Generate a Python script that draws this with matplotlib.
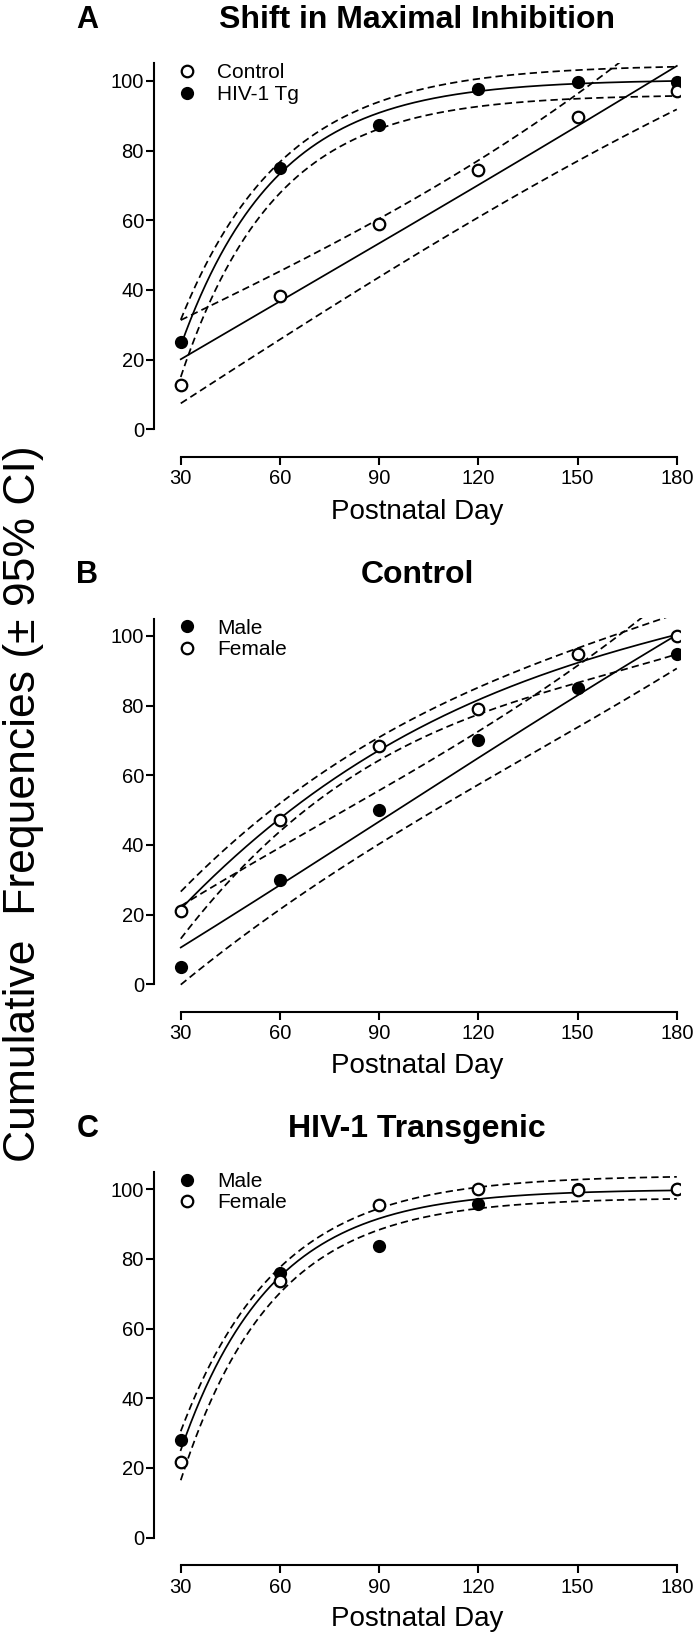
import numpy as np
import matplotlib
matplotlib.use("Agg")
import matplotlib.pyplot as plt

plt.rcParams['font.family'] = ['Liberation Sans', 'DejaVu Sans']

# ---------------- data ----------------
days = [30, 60, 90, 120, 150, 180]
xticks = [30, 60, 90, 120, 150, 180]
yticks = [0, 20, 40, 60, 80, 100]

# Panel A: Shift in Maximal Inhibition
a_control = [12.7, 38.4, 58.9, 74.4, 89.6, 97.1]
a_hiv = [25.0, 74.9, 87.4, 97.7, 99.8, 99.8]
# fitted curve readings (solid) and 95% CI readings (dashed)
a_control_fit_x = [30, 60, 90, 120, 150, 180]
a_control_fit = [20.1, 36.7, 53.4, 70.1, 87.1, 104.3]
a_control_hi_x = [30, 60, 90, 120, 150, 161]
a_control_hi = [31.5, 44.8, 61.0, 77.3, 95.5, 104.6]
a_control_lo_x = [30, 60, 90, 120, 150, 180]
a_control_lo = [7.5, 25.6, 43.8, 61.0, 76.8, 91.9]
a_hiv_fit = [24.0, 73.5, 90.7, 96.9, 99.5, 99.9]
a_hiv_hi = [31.4, 77.0, 93.8, 100.3, 103.2, 104.3]
a_hiv_lo = [15.0, 68.0, 85.5, 93.6, 95.0, 95.2]

# Panel B: Control
b_male = [5.0, 30.0, 50.0, 70.0, 85.0, 94.8]
b_female = [21.1, 47.3, 68.4, 79.0, 94.8, 100.0]
b_male_fit = [10.6, 28.3, 47.0, 64.8, 83.0, 100.3]
b_male_hi_x = [30, 60, 90, 120, 150, 168]
b_male_hi = [22.5, 39.3, 55.2, 73.4, 90.7, 104.5]
b_male_lo = [0.0, 21.1, 40.8, 57.1, 73.7, 90.7]
b_female_fit = [21.8, 46.8, 68.6, 80.4, 92.8, 100.3]
b_female_hi_x = [30, 60, 90, 120, 150, 175]
b_female_hi = [26.9, 50.9, 72.0, 85.1, 96.0, 105.0]
b_female_lo = [13.0, 44.0, 64.8, 76.3, 87.5, 94.5]

# Panel C: HIV-1 Transgenic
c_male = [28.0, 76.0, 83.7, 95.9, 100.0, 100.0]
c_female = [21.8, 73.7, 95.4, 100.0, 99.9, 100.0]
c_fit = [25.1, 74.9, 91.6, 97.3, 98.9, 99.7]
c_hi = [30.5, 77.7, 94.5, 100.2, 102.8, 103.8]
c_lo = [16.5, 70.1, 88.2, 95.4, 96.4, 96.7]


# ---------------- curve models ----------------
def fit_exp(xs, ys):
    xs = np.asarray(xs, float); ys = np.asarray(ys, float)
    t = xs - 30.0
    best = None
    for c in np.linspace(-0.12, 0.03, 3001):
        if abs(c) < 1e-9:
            continue
        A = np.column_stack([np.ones_like(t), np.exp(c * t)])
        coef, *_ = np.linalg.lstsq(A, ys, rcond=None)
        sse = float(((A @ coef - ys) ** 2).sum())
        if best is None or sse < best[0]:
            best = (sse, coef[0], coef[1], c)
    _, a, b, c = best
    return lambda x: a + b * np.exp(c * (np.asarray(x) - 30.0))


def fit_cubic(xs, ys):
    p = np.polyfit(np.asarray(xs, float), np.asarray(ys, float), 3)
    return lambda x: np.polyval(p, x)


xx = np.linspace(30, 180, 500)

# ---------------- figure layout ----------------
W, H = 700, 1642
fig = plt.figure(figsize=(W / 100, H / 100), dpi=100)

left_px, width_px = 154.3, 525.8
axis_line_px = [456.7, 1011.7, 1565.0]
height_px = 393.2
XLIM = (22, 181)
YLIM = (-7.87, 105)

FS_TICK = 14.5
FS_LEG = 15
FS_XLAB = 20
FS_TITLE = 23
FS_YLAB = 32

dash = (4.2, 2.4)
LW = 1.25


def make_ax(i):
    b = 1 - axis_line_px[i] / H
    ax = fig.add_axes([left_px / W, b, width_px / W, height_px / H])
    ax.set_xlim(*XLIM)
    ax.set_ylim(*YLIM)
    for s in ['top', 'right']:
        ax.spines[s].set_visible(False)
    ax.spines['left'].set_bounds(0, 105)
    ax.spines['bottom'].set_bounds(30, 180)
    for s in ['left', 'bottom']:
        ax.spines[s].set_linewidth(1.5)
    ax.set_xticks(xticks)
    ax.set_yticks(yticks)
    ax.tick_params(axis='both', direction='out', width=1.5, labelsize=FS_TICK, length=5.5)
    ax.tick_params(axis='x', pad=3.5)
    ax.tick_params(axis='y', pad=2.0)
    ax.patch.set_alpha(0)
    return ax


def solid(ax, f):
    ax.plot(xx, f(xx), color='black', lw=LW, zorder=2)


def dashed(ax, f):
    ax.plot(xx, f(xx), color='black', lw=LW, dashes=dash, zorder=2)


def pts(ax, y, filled, label):
    if filled:
        ax.plot(days, y, 'o', ms=8.3, mfc='black', mec='black', mew=1.2,
                ls='none', zorder=4, label=label)
    else:
        ax.plot(days, y, 'o', ms=8.3, mfc='white', mec='black', mew=1.6,
                ls='none', zorder=5, label=label)


def legend(ax):
    ax.legend(loc='upper left', bbox_to_anchor=(0.0418, 1.0), frameon=False,
              fontsize=FS_LEG, handlelength=1.0, handletextpad=0.95,
              borderpad=0.0, borderaxespad=0.0, labelspacing=0.12,
              numpoints=1)


def decorate(ax, i, letter, title):
    title_y = [20, 575, 1129][i]
    xlab_y = [511.7, 1065.6, 1619.0][i]
    fig.text(417 / W, 1 - title_y / H, title, ha='center', va='center',
             fontsize=FS_TITLE, fontweight='bold')
    fig.text(87.5 / W, 1 - title_y / H, letter, ha='center', va='center',
             fontsize=FS_TITLE - 1, fontweight='bold')
    fig.text(417 / W, 1 - xlab_y / H, 'Postnatal Day', ha='center', va='center',
             fontsize=FS_XLAB)


# ---- Panel A ----
axA = make_ax(0)
solid(axA, fit_cubic(a_control_fit_x, a_control_fit))
dashed(axA, fit_cubic(a_control_hi_x, a_control_hi))
dashed(axA, fit_cubic(a_control_lo_x, a_control_lo))
solid(axA, fit_exp(days, a_hiv_fit))
dashed(axA, fit_exp(days, a_hiv_hi))
dashed(axA, fit_exp(days, a_hiv_lo))
pts(axA, a_hiv, True, 'HIV-1 Tg')
pts(axA, a_control, False, 'Control')
h, l = axA.get_legend_handles_labels()
axA.legend(h[::-1], l[::-1], loc='upper left', bbox_to_anchor=(0.0418, 1.0),
           frameon=False, fontsize=FS_LEG, handlelength=1.0, handletextpad=0.95,
           borderpad=0.0, borderaxespad=0.0, labelspacing=0.12, numpoints=1)
decorate(axA, 0, 'A', 'Shift in Maximal Inhibition')

# ---- Panel B ----
axB = make_ax(1)
solid(axB, fit_cubic(days, b_male_fit))
dashed(axB, fit_cubic(b_male_hi_x, b_male_hi))
dashed(axB, fit_cubic(days, b_male_lo))
solid(axB, fit_cubic(days, b_female_fit))
dashed(axB, fit_cubic(b_female_hi_x, b_female_hi))
dashed(axB, fit_cubic(days, b_female_lo))
pts(axB, b_male, True, 'Male')
pts(axB, b_female, False, 'Female')
legend(axB)
decorate(axB, 1, 'B', 'Control')

# ---- Panel C ----
axC = make_ax(2)
solid(axC, fit_exp(days, c_fit))
dashed(axC, fit_exp(days, c_hi))
dashed(axC, fit_exp(days, c_lo))
pts(axC, c_male, True, 'Male')
pts(axC, c_female, False, 'Female')
legend(axC)
decorate(axC, 2, 'C', 'HIV-1 Transgenic')

fig.text(24 / W, 1 - 803.5 / H, 'Cumulative  Frequencies (\u00b1 95% CI)',
         rotation=90, ha='center', va='center', fontsize=FS_YLAB)

fig.savefig('out.png', dpi=100)
